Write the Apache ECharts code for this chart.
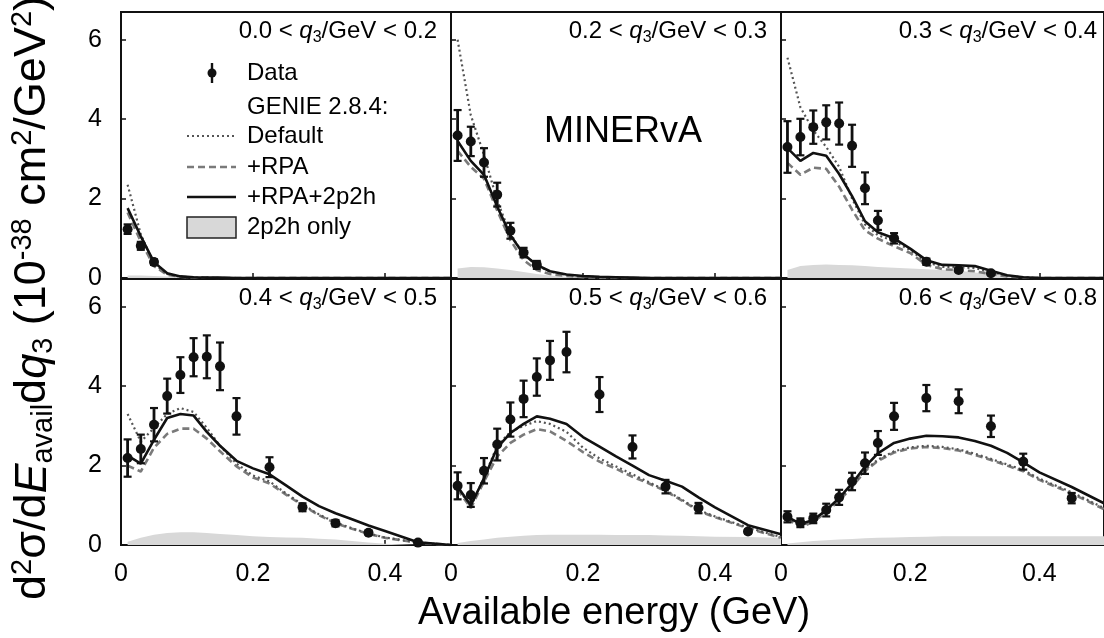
<!DOCTYPE html>
<html>
<head>
<meta charset="utf-8">
<script src="https://cdn.jsdelivr.net/npm/echarts@6/dist/echarts.min.js"></script>
<style>
  html, body { margin: 0; padding: 0; background: #fff; }
  #chart { width: 1104px; height: 638px; }
</style>
</head>
<body>
<div id="chart"></div>
<script>
// Available-energy bin centres (GeV) for the measured points
const dataEnergy = [0.01, 0.03, 0.05, 0.07, 0.09, 0.11, 0.13, 0.15, 0.175, 0.225, 0.275, 0.325, 0.375, 0.45];
// Available-energy points (GeV) for the GENIE predictions
const modelEnergy = [0.01, 0.03, 0.05, 0.07, 0.09, 0.11, 0.13, 0.15, 0.175, 0.2, 0.225, 0.25, 0.275, 0.3, 0.325, 0.35, 0.375, 0.4, 0.45, 0.5];

// q3 bin edges (GeV), one pair per panel
const q3Low  = ['0.0', '0.2', '0.3', '0.4', '0.5', '0.6'];
const q3High = ['0.2', '0.3', '0.4', '0.5', '0.6', '0.8'];

// Tick values
const xTicks = [0, 0.2, 0.4];
const yTicks = [0, 2, 4, 6];

// ---- 0.0 < q3 < 0.2 ----
const data_q1 = [1.23, 0.81, 0.40];
const err_q1  = [0.12, 0.10, 0.07];
const default_q1 = [2.35, 1.10, 0.35, 0.10, 0.03, 0.01, 0.01, 0, 0, 0, 0, 0, 0, 0, 0, 0, 0, 0, 0, 0];
const rpa_q1     = [1.65, 0.92, 0.30, 0.08, 0.03, 0.01, 0.01, 0, 0, 0, 0, 0, 0, 0, 0, 0, 0, 0, 0, 0];
const full_q1    = [1.76, 1.05, 0.40, 0.12, 0.04, 0.02, 0.01, 0.01, 0, 0, 0, 0, 0, 0, 0, 0, 0, 0, 0, 0];
const mec_q1     = [0.06, 0.06, 0.05, 0.04, 0.03, 0.02, 0.01, 0.01, 0, 0, 0, 0, 0, 0, 0, 0, 0, 0, 0, 0];

// ---- 0.2 < q3 < 0.3 ----
const data_q2 = [3.59, 3.44, 2.91, 2.10, 1.19, 0.64, 0.33];
const err_q2  = [0.64, 0.37, 0.36, 0.30, 0.20, 0.12, 0.10];
const default_q2 = [6.0, 4.1, 3.1, 1.95, 1.10, 0.60, 0.32, 0.16, 0.08, 0.04, 0.02, 0.01, 0, 0, 0, 0, 0, 0, 0, 0];
const rpa_q2     = [3.2, 2.8, 2.5, 1.70, 0.95, 0.45, 0.20, 0.10, 0.05, 0.02, 0.01, 0, 0, 0, 0, 0, 0, 0, 0, 0];
const full_q2    = [3.45, 2.95, 2.6, 1.80, 1.08, 0.60, 0.33, 0.17, 0.09, 0.05, 0.03, 0.02, 0.01, 0, 0, 0, 0, 0, 0, 0];
const mec_q2     = [0.24, 0.28, 0.27, 0.24, 0.20, 0.15, 0.10, 0.06, 0.03, 0.01, 0, 0, 0, 0, 0, 0, 0, 0, 0, 0];

// ---- 0.3 < q3 < 0.4 ----
const data_q3 = [3.30, 3.55, 3.80, 3.92, 3.89, 3.33, 2.26, 1.45, 1.00, 0.41, 0.20, 0.12];
const err_q3  = [0.65, 0.46, 0.42, 0.43, 0.53, 0.53, 0.40, 0.24, 0.13, 0.08, 0.05, 0.04];
const default_q3 = [5.55, 4.3, 3.72, 3.3, 2.8, 2.0, 1.35, 1.08, 0.93, 0.70, 0.40, 0.28, 0.27, 0.25, 0.15, 0.06, 0.02, 0, 0, 0];
const rpa_q3     = [2.9, 2.6, 2.78, 2.75, 2.3, 1.72, 1.20, 0.99, 0.80, 0.63, 0.33, 0.22, 0.20, 0.17, 0.10, 0.04, 0.01, 0, 0, 0];
const full_q3    = [3.27, 2.95, 3.15, 3.08, 2.62, 2.06, 1.43, 1.15, 1.00, 0.74, 0.45, 0.33, 0.32, 0.30, 0.18, 0.07, 0.02, 0, 0, 0];
const mec_q3     = [0.20, 0.30, 0.33, 0.34, 0.33, 0.32, 0.30, 0.28, 0.26, 0.24, 0.22, 0.20, 0.18, 0.14, 0.10, 0.05, 0.02, 0, 0, 0];

// ---- 0.4 < q3 < 0.5 ----
const data_q4 = [2.19, 2.42, 3.03, 3.75, 4.28, 4.73, 4.74, 4.50, 3.24, 1.96, 0.95, 0.55, 0.31, 0.06];
const err_q4  = [0.47, 0.36, 0.42, 0.44, 0.45, 0.48, 0.54, 0.60, 0.46, 0.25, 0.10, 0.08, 0.05, 0.03];
const default_q4 = [3.3, 2.6, 2.95, 3.3, 3.45, 3.35, 2.95, 2.5, 2.05, 1.75, 1.60, 1.30, 1.02, 0.77, 0.57, 0.42, 0.29, 0.19, 0.06, 0];
const rpa_q4     = [2.0, 1.85, 2.45, 2.8, 2.93, 2.93, 2.68, 2.36, 1.98, 1.70, 1.55, 1.27, 1.00, 0.75, 0.55, 0.41, 0.28, 0.18, 0.06, 0];
const full_q4    = [2.25, 2.05, 2.65, 3.2, 3.3, 3.26, 2.85, 2.5, 2.12, 1.93, 1.78, 1.50, 1.22, 0.98, 0.80, 0.65, 0.49, 0.35, 0.07, 0];
const mec_q4     = [0.08, 0.18, 0.26, 0.30, 0.32, 0.32, 0.30, 0.28, 0.25, 0.22, 0.20, 0.19, 0.18, 0.16, 0.14, 0.10, 0.06, 0.03, 0, 0];

// ---- 0.5 < q3 < 0.6 ----
const data_q5 = [1.49, 1.26, 1.87, 2.53, 3.16, 3.68, 4.23, 4.65, 4.86, 3.79, 2.47, 1.47, 0.93, 0.34];
const err_q5  = [0.34, 0.30, 0.32, 0.40, 0.43, 0.46, 0.47, 0.49, 0.51, 0.44, 0.29, 0.17, 0.13, 0.05];
const default_q5 = [1.45, 0.96, 1.7, 2.5, 2.85, 3.0, 3.12, 3.05, 2.85, 2.45, 2.18, 1.98, 1.78, 1.58, 1.38, 1.14, 0.88, 0.72, 0.44, 0.20];
const rpa_q5     = [1.4, 0.93, 1.6, 2.23, 2.57, 2.78, 2.92, 2.86, 2.62, 2.34, 2.10, 1.92, 1.72, 1.55, 1.36, 1.12, 0.86, 0.70, 0.42, 0.18];
const full_q5    = [1.47, 1.0, 1.68, 2.45, 2.82, 3.05, 3.24, 3.18, 3.05, 2.72, 2.48, 2.23, 2.00, 1.76, 1.62, 1.47, 1.20, 0.95, 0.50, 0.27];
const mec_q5     = [0.05, 0.10, 0.14, 0.18, 0.21, 0.23, 0.25, 0.26, 0.26, 0.26, 0.26, 0.25, 0.25, 0.25, 0.24, 0.23, 0.22, 0.21, 0.20, 0.18];

// ---- 0.6 < q3 < 0.8 ----
const data_q6 = [0.71, 0.56, 0.67, 0.88, 1.20, 1.60, 2.06, 2.57, 3.24, 3.70, 3.62, 2.99, 2.10, 1.18];
const err_q6  = [0.14, 0.11, 0.12, 0.16, 0.19, 0.22, 0.27, 0.30, 0.34, 0.33, 0.30, 0.27, 0.20, 0.13];
const default_q6 = [0.69, 0.48, 0.61, 0.86, 1.15, 1.49, 1.89, 2.15, 2.36, 2.46, 2.50, 2.47, 2.41, 2.30, 2.17, 2.03, 1.89, 1.67, 1.33, 0.93];
const rpa_q6     = [0.66, 0.45, 0.58, 0.83, 1.12, 1.46, 1.86, 2.12, 2.33, 2.43, 2.47, 2.44, 2.38, 2.27, 2.14, 2.00, 1.86, 1.64, 1.30, 0.90];
const full_q6    = [0.71, 0.53, 0.63, 0.88, 1.18, 1.55, 1.97, 2.31, 2.57, 2.68, 2.75, 2.74, 2.71, 2.62, 2.50, 2.32, 2.08, 1.83, 1.46, 1.05];
const mec_q6     = [0.04, 0.07, 0.10, 0.12, 0.14, 0.15, 0.17, 0.18, 0.19, 0.20, 0.21, 0.22, 0.22, 0.22, 0.22, 0.22, 0.22, 0.22, 0.22, 0.22];

const panelData    = [data_q1, data_q2, data_q3, data_q4, data_q5, data_q6];
const panelErr     = [err_q1, err_q2, err_q3, err_q4, err_q5, err_q6];
const panelDefault = [default_q1, default_q2, default_q3, default_q4, default_q5, default_q6];
const panelRpa     = [rpa_q1, rpa_q2, rpa_q3, rpa_q4, rpa_q5, rpa_q6];
const panelFull    = [full_q1, full_q2, full_q3, full_q4, full_q5, full_q6];
const panelMec     = [mec_q1, mec_q2, mec_q3, mec_q4, mec_q5, mec_q6];

const FONT = '"Liberation Sans", Arial, Helvetica, sans-serif';
const INK = '#111';

const chart = echarts.init(document.getElementById('chart'), null, { renderer: 'canvas' });

// Layout: 3 columns x 2 rows of panels that share their borders
const PANEL_W = 330, PANEL_H = 266, LEFT0 = 121, TOP0 = 12, TOP1 = 279;
const Y_MAX = 6.7;

const grids = [], xAxes = [], yAxes = [], series = [], graphics = [];

function pairs(xs, ys) {
  const out = [];
  for (let i = 0; i < ys.length; i++) if (ys[i] != null) out.push([xs[i], ys[i]]);
  return out;
}

for (let p = 0; p < 6; p++) {
  const row = p < 3 ? 0 : 1, col = p % 3;
  const left = LEFT0 + col * PANEL_W;
  const top = row === 0 ? TOP0 : TOP1;
  grids.push({ left: left, top: top, width: PANEL_W, height: PANEL_H, show: true,
               borderColor: INK, borderWidth: 2, backgroundColor: 'transparent', containLabel: false });

  xAxes.push({
    gridIndex: p, type: 'value', min: 0, max: 0.5, interval: 0.2,
    axisLine: { show: false },
    axisTick: { show: true, inside: true, length: 5, lineStyle: { color: INK, width: 1.5 } },
    axisLabel: { show: row === 1, showMaxLabel: false, fontSize: 25, color: '#000', fontFamily: FONT, margin: 17,
                 formatter: v => (xTicks.indexOf(v) >= 0 ? (v === 0 ? '0' : v.toFixed(1)) : '') },
    splitLine: { show: false }
  });
  yAxes.push({
    gridIndex: p, type: 'value', min: 0, max: Y_MAX, interval: 2,
    axisLine: { show: false },
    axisTick: { show: true, inside: true, length: 5, lineStyle: { color: INK, width: 1.5 } },
    axisLabel: { show: col === 0, showMaxLabel: false, fontSize: 25, color: '#000', fontFamily: FONT, margin: 19,
                 formatter: v => (yTicks.indexOf(v) >= 0 ? String(v) : '') },
    splitLine: { show: false }
  });

  const base = { xAxisIndex: p, yAxisIndex: p, showSymbol: false, symbol: 'none', silent: true, clip: true };

  // 2p2h-only contribution, filled
  series.push(Object.assign({}, base, {
    type: 'line', name: '2p2h only', z: 1,
    data: pairs(modelEnergy, panelMec[p]),
    lineStyle: { width: 0 }, areaStyle: { color: '#d8d8d8', opacity: 1 }
  }));
  // GENIE +RPA (dashed)
  series.push(Object.assign({}, base, {
    type: 'line', name: '+RPA', z: 2,
    data: pairs(modelEnergy, panelRpa[p]),
    lineStyle: { color: '#7a7a7a', width: 2.6, type: [7, 4] }
  }));
  // GENIE default (dotted)
  series.push(Object.assign({}, base, {
    type: 'line', name: 'Default', z: 3,
    data: pairs(modelEnergy, panelDefault[p]),
    lineStyle: { color: '#555', width: 2.2, type: [2, 3] }
  }));
  // GENIE +RPA+2p2h (solid)
  series.push(Object.assign({}, base, {
    type: 'line', name: '+RPA+2p2h', z: 4,
    data: pairs(modelEnergy, panelFull[p]),
    lineStyle: { color: INK, width: 2.6 }
  }));
  // Data error bars
  const errRows = [];
  panelData[p].forEach((v, i) => errRows.push([dataEnergy[i], v, panelErr[p][i]]));
  series.push({
    type: 'custom', name: 'Data errors', xAxisIndex: p, yAxisIndex: p, z: 5, silent: true,
    data: errRows,
    encode: { x: 0, y: 1 },
    renderItem: function (params, api) {
      const x = api.value(0), y = api.value(1), e = api.value(2);
      const hi = api.coord([x, y + e]), lo = api.coord([x, y - e]);
      const hw = 4;
      const st = { stroke: INK, lineWidth: 2.8 };
      return { type: 'group', children: [
        { type: 'line', shape: { x1: hi[0], y1: hi[1], x2: lo[0], y2: lo[1] }, style: st },
        { type: 'line', shape: { x1: hi[0] - hw, y1: hi[1], x2: hi[0] + hw, y2: hi[1] }, style: { stroke: INK, lineWidth: 2.2 } },
        { type: 'line', shape: { x1: lo[0] - hw, y1: lo[1], x2: lo[0] + hw, y2: lo[1] }, style: { stroke: INK, lineWidth: 2.2 } }
      ] };
    }
  });
  // Data points
  series.push({
    type: 'scatter', name: 'Data', xAxisIndex: p, yAxisIndex: p, z: 6, silent: true,
    data: pairs(dataEnergy, panelData[p]),
    symbol: 'circle', symbolSize: 10, itemStyle: { color: INK, opacity: 1 }
  });

  // Panel label "a < q3/GeV < b"
  graphics.push({
    type: 'text', z: 20,
    x: left + PANEL_W - 14, y: top + 19,
    style: {
      text: '{n|' + q3Low[p] + ' < }{q|q}{s|3}{n|/GeV < ' + q3High[p] + '}',
      align: 'right', verticalAlign: 'middle',
      rich: {
        n: { fontSize: 24, fontFamily: FONT, fill: '#000', lineHeight: 30 },
        q: { fontSize: 24, fontFamily: FONT, fontStyle: 'italic', fill: '#000', lineHeight: 30 },
        s: { fontSize: 16, fontFamily: FONT, fill: '#000', lineHeight: 2, verticalAlign: 'bottom' }
      }
    }
  });
}

// Experiment tag in the second panel
graphics.push({ type: 'text', x: 623, y: 132, z: 20,
  style: { text: 'MINERvA', fontSize: 36, fontFamily: FONT, fill: '#000', align: 'center', verticalAlign: 'middle' } });

// Legend in the first panel
const LX0 = 187, LX1 = 236, TX = 247;
graphics.push(
  { type: 'line', z: 20, shape: { x1: 212, y1: 63, x2: 212, y2: 83 }, style: { stroke: INK, lineWidth: 2.4 } },
  { type: 'circle', z: 20, shape: { cx: 212, cy: 73, r: 4.5 }, style: { fill: INK } },
  { type: 'line', z: 20, shape: { x1: LX0, y1: 136, x2: LX1, y2: 136 }, style: { stroke: '#555', lineWidth: 2.2, lineDash: [2, 3] } },
  { type: 'line', z: 20, shape: { x1: LX0, y1: 167, x2: LX1, y2: 167 }, style: { stroke: '#7a7a7a', lineWidth: 2.6, lineDash: [7, 4] } },
  { type: 'line', z: 20, shape: { x1: LX0, y1: 197, x2: LX1, y2: 197 }, style: { stroke: INK, lineWidth: 2.6 } },
  { type: 'rect', z: 20, shape: { x: LX0, y: 217, width: LX1 - LX0, height: 21 }, style: { fill: '#d8d8d8', stroke: '#222', lineWidth: 1.5 } }
);
[['Data', 73], ['GENIE 2.8.4:', 107], ['Default', 136], ['+RPA', 167], ['+RPA+2p2h', 197], ['2p2h only', 227]].forEach(function (t) {
  graphics.push({ type: 'text', z: 20, x: TX, y: t[1],
    style: { text: t[0], fontSize: 24, fontFamily: FONT, fill: '#000', align: 'left', verticalAlign: 'middle' } });
});

// Shared axis titles
graphics.push({ type: 'text', x: 614, y: 614, z: 20,
  style: { text: 'Available energy (GeV)', fontSize: 38, fontFamily: FONT, fill: '#000', align: 'center', verticalAlign: 'middle' } });

graphics.push({ type: 'text', x: 33, y: 298, rotation: Math.PI / 2, z: 20,
  style: {
    text: '{n|d}{sup|2}{n|σ/d}{i|E}{sub|avail}{n|d}{i|q}{sub|3}{n| (10}{sup|-38}{n| cm}{sup|2}{n|/GeV}{sup|2}{n|)}',
    align: 'center', verticalAlign: 'middle',
    rich: {
      n:   { fontSize: 45, fontFamily: FONT, fill: '#000', lineHeight: 50 },
      i:   { fontSize: 45, fontFamily: FONT, fontStyle: 'italic', fill: '#000', lineHeight: 50 },
      sup: { fontSize: 29, fontFamily: FONT, fill: '#000', lineHeight: 30, verticalAlign: 'top' },
      sub: { fontSize: 29, fontFamily: FONT, fill: '#000', lineHeight: 8, verticalAlign: 'bottom' }
    }
  }
});

chart.setOption({
  animation: false,
  backgroundColor: '#fff',
  grid: grids,
  xAxis: xAxes,
  yAxis: yAxes,
  series: series,
  graphic: graphics
});
</script>
</body>
</html>
